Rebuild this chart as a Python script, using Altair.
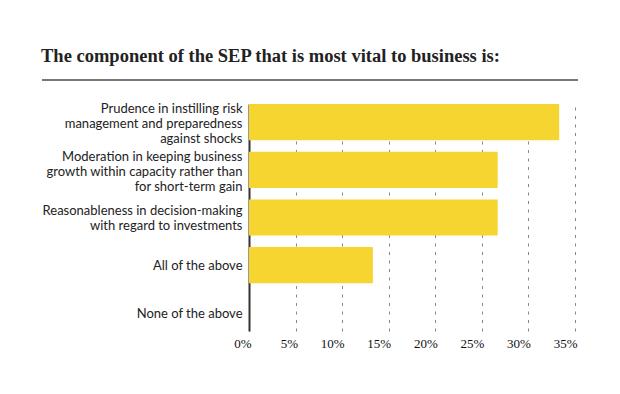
import altair as alt
import pandas as pd

categories = [
    "Prudence in instilling risk|management and preparedness|against shocks",
    "Moderation in keeping business|growth within capacity rather than|for short-term gain",
    "Reasonableness in decision-making|with regard to investments",
    "All of the above",
    "None of the above",
]
values = [33.3, 26.7, 26.7, 13.3, 0.0]
tick_values = [0, 5, 10, 15, 20, 25, 30, 35]

df = pd.DataFrame({"category": categories, "value": values})

label_offset = {
    "condition": [
        {"test": "length(split(datum.value, '|')) == 3", "value": -13},
        {"test": "length(split(datum.value, '|')) == 2", "value": -7},
    ],
    "value": 1,
}

bars = alt.Chart(df).mark_bar(color="#F6D531").encode(
    y=alt.Y(
        "category:N",
        sort=categories,
        scale=alt.Scale(paddingInner=0.24, paddingOuter=0),
        axis=alt.Axis(
            title=None,
            labelExpr="split(datum.label, '|')",
            labelFont="Lato",
            labelFontSize=13,
            labelColor="#222222",
            labelLineHeight=15,
            labelPadding=7,
            labelOffset=label_offset,
            ticks=False,
            domainColor="#333333",
            domainWidth=2,
            labelLimit=300,
        ),
    ),
    x=alt.X(
        "value:Q",
        scale=alt.Scale(domain=[0, 35], nice=False),
        axis=alt.Axis(
            title=None,
            values=tick_values,
            labelExpr="datum.value + '%'",
            labelFont="Liberation Serif",
            labelFontSize=13,
            labelColor="#111111",
            labelAlign="right",
            labelPadding=6,
            labelOffset=2,
            labelFlush=False,
            ticks=False,
            domain=False,
            grid=True,
            gridColor="#888888",
            gridDash=[3, 5.5],
            gridWidth=1,
        ),
    ),
)

rule = alt.Chart(df).mark_rule(color="#777777", strokeWidth=2).encode(
    x=alt.value(-207), x2=alt.value(329), y=alt.value(-24)
)

chart = (
    alt.layer(bars, rule)
    .properties(
        width=326,
        height=227,
        title=alt.TitleParams(
            "The component of the SEP that is most vital to business is:",
            anchor="start",
            frame="bounds",
            offset=14,
            font="Liberation Serif",
            fontSize=18.5,
            fontWeight="bold",
            color="#222222",
        ),
        autosize=alt.AutoSizeParams(type="none"),
        padding={"left": 241, "top": 96, "right": 20, "bottom": 40},
    )
    .configure_view(stroke=None)
)

chart.save("out.html", embed_options={"renderer": "svg", "actions": False})
